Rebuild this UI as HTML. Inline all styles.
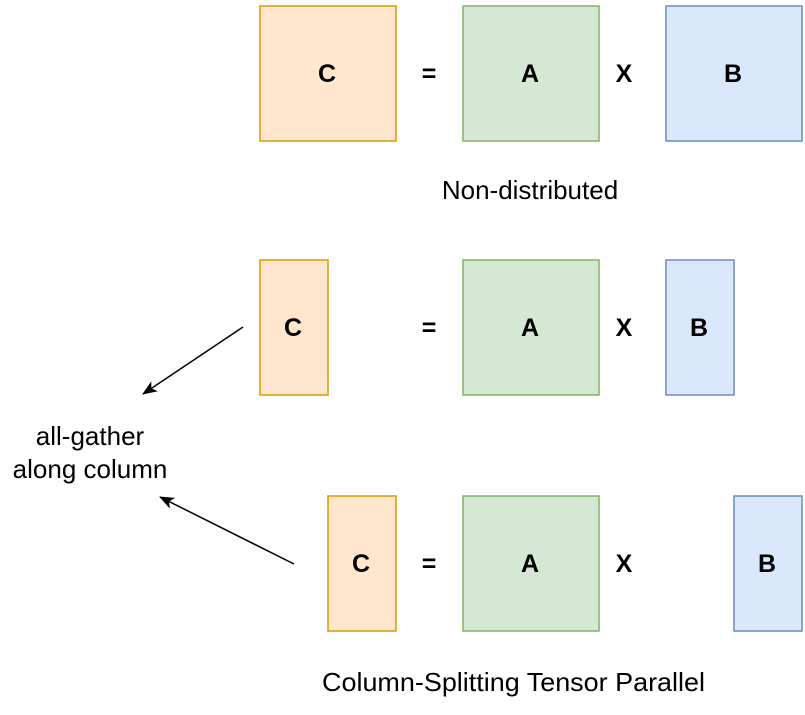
<!DOCTYPE html>
<html><head><style>html,body{margin:0;padding:0;background:#fff;}</style></head>
<body>
<svg width="805" height="710" viewBox="0 0 805 710" xmlns="http://www.w3.org/2000/svg">
<defs>
<marker id="ar" markerWidth="16" markerHeight="14" refX="14" refY="6" orient="auto" markerUnits="userSpaceOnUse">
<path d="M0,0 L15,6 L0,12 L4,6 Z" fill="#000"/>
</marker>
</defs>
<g stroke-width="1.5">
<rect x="260" y="6" width="136" height="135" fill="#ffe6cc" stroke="#d79b00"/>
<rect x="463" y="6" width="136" height="135" fill="#d5e8d4" stroke="#82b366"/>
<rect x="666" y="6" width="136" height="135" fill="#dae8fc" stroke="#6c8ebf"/>
<rect x="260" y="260" width="68" height="135" fill="#ffe6cc" stroke="#d79b00"/>
<rect x="463" y="260" width="136" height="135" fill="#d5e8d4" stroke="#82b366"/>
<rect x="666" y="260" width="68" height="135" fill="#dae8fc" stroke="#6c8ebf"/>
<rect x="328" y="496" width="68" height="135" fill="#ffe6cc" stroke="#d79b00"/>
<rect x="463" y="496" width="136" height="135" fill="#d5e8d4" stroke="#82b366"/>
<rect x="734" y="496" width="68" height="135" fill="#dae8fc" stroke="#6c8ebf"/>
</g>
<line x1="243" y1="327" x2="143" y2="394" stroke="#000" stroke-width="1.5" marker-end="url(#ar)"/>
<line x1="294" y1="564" x2="160" y2="497" stroke="#000" stroke-width="1.5" marker-end="url(#ar)"/>
<g font-family="Liberation Sans, sans-serif" font-weight="bold" font-size="25" text-anchor="middle" fill="#000">
<text x="327" y="82">C</text><text x="429" y="82">=</text><text x="530" y="82">A</text><text x="624" y="82">X</text><text x="733" y="82">B</text>
<text x="293" y="336">C</text><text x="429" y="336">=</text><text x="530" y="336">A</text><text x="624" y="336">X</text><text x="699" y="336">B</text>
<text x="361" y="572">C</text><text x="429" y="572">=</text><text x="530" y="572">A</text><text x="624" y="572">X</text><text x="767" y="572">B</text>
</g>
<g font-family="Liberation Sans, sans-serif" font-size="26" fill="#000">
<text x="530" y="199" text-anchor="middle">Non-distributed</text>
<text x="90" y="445" text-anchor="middle">all-gather</text>
<text x="90" y="478" text-anchor="middle">along column</text>
<text x="322" y="691" textLength="383" lengthAdjust="spacingAndGlyphs">Column-Splitting Tensor Parallel</text>
</g>
</svg>
</body></html>
